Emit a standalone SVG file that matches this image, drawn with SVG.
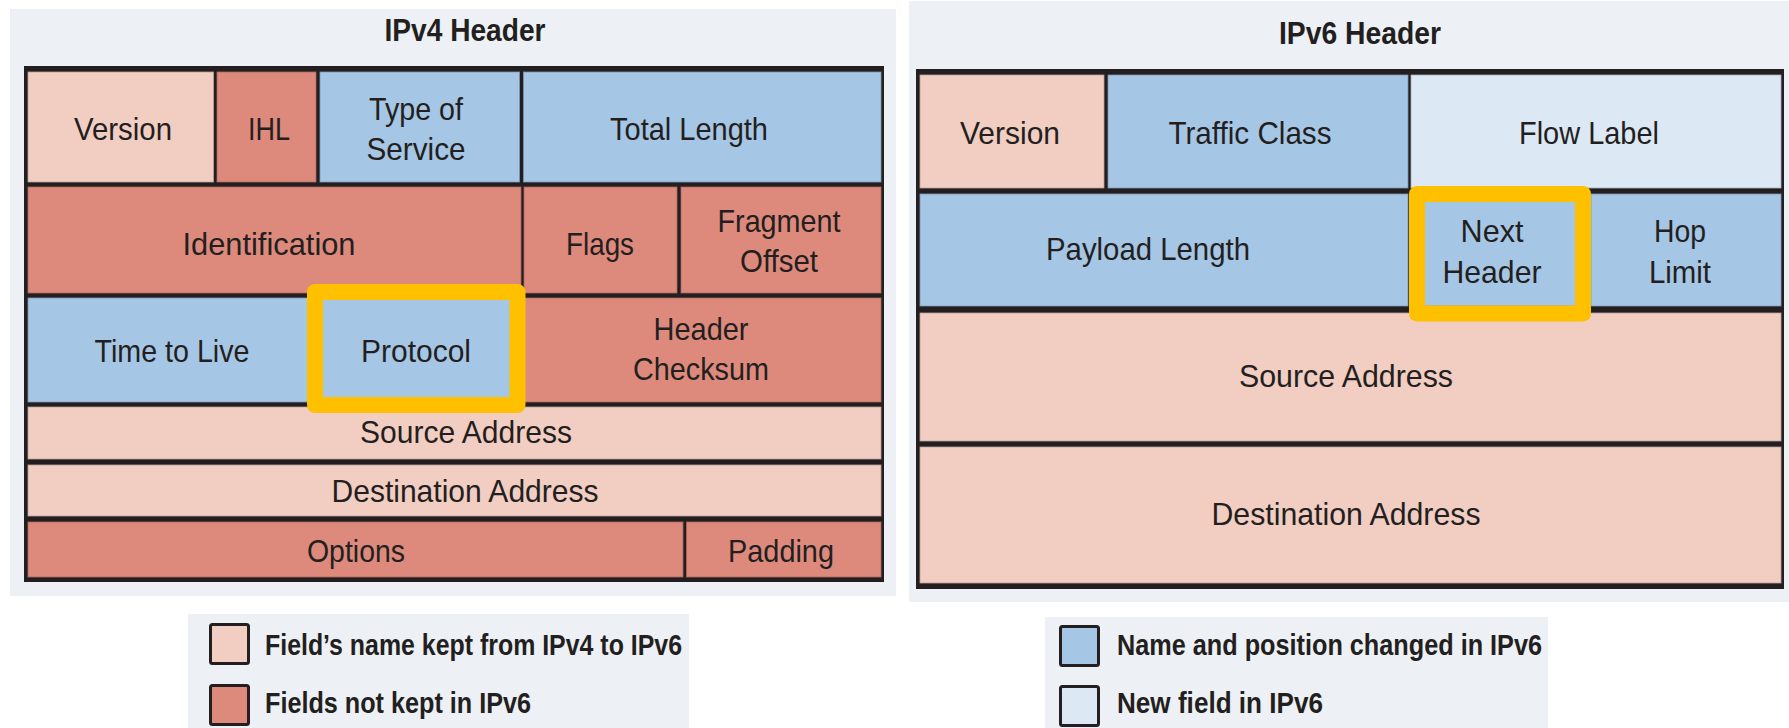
<svg xmlns="http://www.w3.org/2000/svg" width="1789" height="728" viewBox="0 0 1789 728">
  <style>
    .panel { fill: #EDF1F5; }
    .frame { fill: #231F20; }
    .kept { fill: #F1CDC2; stroke: #B9A29C; stroke-width: 0.8; }
    .dropped { fill: #DD8A7C; stroke: #A8685E; stroke-width: 0.8; }
    .moved { fill: #A6C6E5; stroke: #7F97AE; stroke-width: 0.8; }
    .new { fill: #DDE8F5; stroke: #A9B1BA; stroke-width: 0.8; }
    .focus { fill: none; stroke: #FFC000; stroke-width: 16; stroke-linejoin: round; }
    text { font-family: "Liberation Sans", Arial, sans-serif; fill: #231F20; }
    .label { font-size: 32px; text-anchor: middle; }
    .title { font-size: 31px; font-weight: bold; text-anchor: middle; }
    .key { font-size: 30px; font-weight: bold; }
    .swatch { stroke: #231F20; stroke-width: 3; }
  </style>

  <rect width="1789" height="728" fill="#FFFFFF"/>

  <!-- IPv4 header -->
  <g id="ipv4-header">
    <rect class="panel" x="10" y="9" width="886" height="587"/>
    <text class="title" x="465" y="41" textLength="161" lengthAdjust="spacingAndGlyphs">IPv4 Header</text>
    <rect class="frame" x="24" y="66" width="860" height="516"/>

    <g id="v4-version">
      <rect class="kept" x="28" y="72" width="185.5" height="110"/>
      <text class="label" x="123" y="140" textLength="98" lengthAdjust="spacingAndGlyphs">Version</text>
    </g>
    <g id="v4-ihl">
      <rect class="dropped" x="217" y="72" width="99" height="110"/>
      <text class="label" x="269" y="140" textLength="42" lengthAdjust="spacingAndGlyphs">IHL</text>
    </g>
    <g id="v4-tos">
      <rect class="moved" x="320" y="72" width="199.5" height="110"/>
      <text class="label" x="416" y="120" textLength="94" lengthAdjust="spacingAndGlyphs">Type of</text>
      <text class="label" x="416" y="160" textLength="99" lengthAdjust="spacingAndGlyphs">Service</text>
    </g>
    <g id="v4-total-length">
      <rect class="moved" x="523.5" y="72" width="357.5" height="110"/>
      <text class="label" x="689" y="140" textLength="158" lengthAdjust="spacingAndGlyphs">Total Length</text>
    </g>

    <g id="v4-identification">
      <rect class="dropped" x="28" y="187" width="493" height="106"/>
      <text class="label" x="269" y="255" textLength="173" lengthAdjust="spacingAndGlyphs">Identification</text>
    </g>
    <g id="v4-flags">
      <rect class="dropped" x="524" y="187" width="153" height="106"/>
      <text class="label" x="600" y="255" textLength="68" lengthAdjust="spacingAndGlyphs">Flags</text>
    </g>
    <g id="v4-fragment-offset">
      <rect class="dropped" x="681" y="187" width="200" height="106"/>
      <text class="label" x="779" y="232" textLength="123" lengthAdjust="spacingAndGlyphs">Fragment</text>
      <text class="label" x="779" y="272" textLength="78" lengthAdjust="spacingAndGlyphs">Offset</text>
    </g>

    <g id="v4-ttl">
      <rect class="moved" x="28" y="298" width="286" height="104"/>
      <text class="label" x="172" y="362" textLength="155" lengthAdjust="spacingAndGlyphs">Time to Live</text>
    </g>
    <g id="v4-protocol">
      <rect class="moved" x="317" y="298" width="204" height="104"/>
      <text class="label" x="416" y="362" textLength="110" lengthAdjust="spacingAndGlyphs">Protocol</text>
    </g>
    <g id="v4-checksum">
      <rect class="dropped" x="524" y="298" width="357" height="104"/>
      <text class="label" x="701" y="340" textLength="95" lengthAdjust="spacingAndGlyphs">Header</text>
      <text class="label" x="701" y="380" textLength="136" lengthAdjust="spacingAndGlyphs">Checksum</text>
    </g>

    <g id="v4-source">
      <rect class="kept" x="28" y="407" width="853" height="52"/>
      <text class="label" x="466" y="443" textLength="212" lengthAdjust="spacingAndGlyphs">Source Address</text>
    </g>
    <g id="v4-destination">
      <rect class="kept" x="28" y="465" width="853" height="51"/>
      <text class="label" x="465" y="502" textLength="267" lengthAdjust="spacingAndGlyphs">Destination Address</text>
    </g>

    <g id="v4-options">
      <rect class="dropped" x="28" y="522" width="655" height="55"/>
      <text class="label" x="356" y="562" textLength="98" lengthAdjust="spacingAndGlyphs">Options</text>
    </g>
    <g id="v4-padding">
      <rect class="dropped" x="686.5" y="522" width="194.5" height="55"/>
      <text class="label" x="781" y="562" textLength="106" lengthAdjust="spacingAndGlyphs">Padding</text>
    </g>

    <rect id="v4-protocol-mark" class="focus" x="315" y="292" width="202.5" height="113"/>
  </g>

  <!-- IPv6 header -->
  <g id="ipv6-header">
    <rect class="panel" x="909" y="1" width="880" height="601"/>
    <text class="title" x="1360" y="44" textLength="162" lengthAdjust="spacingAndGlyphs">IPv6 Header</text>
    <rect class="frame" x="916" y="69" width="868" height="520"/>

    <g id="v6-version">
      <rect class="kept" x="920" y="75" width="184" height="113"/>
      <text class="label" x="1010" y="144" textLength="100" lengthAdjust="spacingAndGlyphs">Version</text>
    </g>
    <g id="v6-traffic-class">
      <rect class="moved" x="1108" y="75" width="300" height="113"/>
      <text class="label" x="1250" y="144" textLength="163" lengthAdjust="spacingAndGlyphs">Traffic Class</text>
    </g>
    <g id="v6-flow-label">
      <rect class="new" x="1411" y="75" width="370" height="113"/>
      <text class="label" x="1589" y="144" textLength="140" lengthAdjust="spacingAndGlyphs">Flow Label</text>
    </g>

    <g id="v6-payload-length">
      <rect class="moved" x="920" y="194" width="488" height="112"/>
      <text class="label" x="1148" y="260" textLength="204" lengthAdjust="spacingAndGlyphs">Payload Length</text>
    </g>
    <g id="v6-next-header">
      <rect class="moved" x="1411" y="194" width="177" height="112"/>
      <text class="label" x="1492" y="242" textLength="63" lengthAdjust="spacingAndGlyphs">Next</text>
      <text class="label" x="1492" y="283" textLength="99" lengthAdjust="spacingAndGlyphs">Header</text>
    </g>
    <g id="v6-hop-limit">
      <rect class="moved" x="1591" y="194" width="190" height="112"/>
      <text class="label" x="1680" y="242" textLength="52" lengthAdjust="spacingAndGlyphs">Hop</text>
      <text class="label" x="1680" y="283" textLength="62" lengthAdjust="spacingAndGlyphs">Limit</text>
    </g>

    <g id="v6-source">
      <rect class="kept" x="920" y="313" width="861" height="128"/>
      <text class="label" x="1346" y="387" textLength="214" lengthAdjust="spacingAndGlyphs">Source Address</text>
    </g>
    <g id="v6-destination">
      <rect class="kept" x="920" y="447" width="861" height="136"/>
      <text class="label" x="1346" y="525" textLength="269" lengthAdjust="spacingAndGlyphs">Destination Address</text>
    </g>

    <rect id="v6-next-header-mark" class="focus" x="1417" y="194" width="166" height="119.5"/>
  </g>

  <!-- Legends -->
  <g id="legend-left">
    <rect class="panel" x="188" y="614" width="501" height="114"/>
    <g id="key-kept">
      <rect class="swatch" x="210.5" y="624.5" width="38" height="39" rx="2" fill="#F1CDC2"/>
      <text class="key" x="265" y="655" textLength="417" lengthAdjust="spacingAndGlyphs">Field’s name kept from IPv4 to IPv6</text>
    </g>
    <g id="key-dropped">
      <rect class="swatch" x="210.5" y="685.5" width="38" height="39" rx="2" fill="#DD8A7C"/>
      <text class="key" x="265" y="713" textLength="266" lengthAdjust="spacingAndGlyphs">Fields not kept in IPv6</text>
    </g>
  </g>

  <g id="legend-right">
    <rect class="panel" x="1045" y="617" width="503" height="111"/>
    <g id="key-moved">
      <rect class="swatch" x="1060.5" y="626.5" width="38" height="39" rx="2" fill="#A6C6E5"/>
      <text class="key" x="1117" y="655" textLength="425" lengthAdjust="spacingAndGlyphs">Name and position changed in IPv6</text>
    </g>
    <g id="key-new">
      <rect class="swatch" x="1060.5" y="686.5" width="38" height="39" rx="2" fill="#DDE8F5"/>
      <text class="key" x="1117" y="713" textLength="206" lengthAdjust="spacingAndGlyphs">New field in IPv6</text>
    </g>
  </g>
</svg>
